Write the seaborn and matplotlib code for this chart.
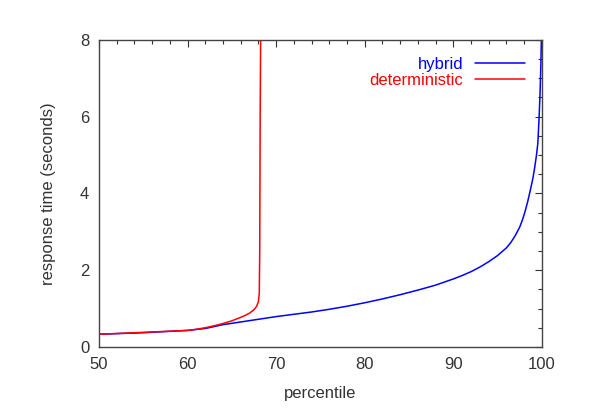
import matplotlib
matplotlib.use("Agg")
import matplotlib.pyplot as plt
from matplotlib.ticker import MultipleLocator
import seaborn as sns
import pandas as pd

# Data
hybrid_x = [50, 55, 60, 62, 63, 64, 66, 68, 70, 72, 74, 76, 78, 80, 82, 84, 86, 88, 90,
            91, 92, 93, 94, 95, 96, 96.5, 97, 97.5, 97.8, 98.1, 98.4, 98.7, 99.0, 99.2,
            99.4, 99.55, 99.7, 99.8, 99.9, 99.95]
hybrid_y = [0.33, 0.37, 0.43, 0.48, 0.53, 0.58, 0.65, 0.72, 0.79, 0.85, 0.91, 0.98, 1.06,
            1.15, 1.25, 1.36, 1.48, 1.61, 1.77, 1.86, 1.96, 2.08, 2.22, 2.38, 2.58, 2.72,
            2.9, 3.12, 3.3, 3.52, 3.78, 4.08, 4.4, 4.68, 5.0, 5.3, 6.0, 6.6, 7.4, 8.0]
det_x = [50, 52, 54, 56, 58, 60, 61, 62, 63, 64, 65, 66, 66.5, 67, 67.5, 67.8, 68.0,
         68.1, 68.15, 68.2, 68.25]
det_y = [0.33, 0.35, 0.37, 0.39, 0.41, 0.43, 0.46, 0.50, 0.55, 0.61, 0.68, 0.77, 0.82,
         0.88, 0.97, 1.06, 1.18, 1.4, 2.5, 6.0, 8.0]
series = ["hybrid", "deterministic"]
colors = ["#0000ff", "#ff0000"]
x_ticks = [50, 60, 70, 80, 90, 100]
y_ticks = [0, 2, 4, 6, 8]

df = pd.concat([
    pd.DataFrame({"percentile": hybrid_x, "response": hybrid_y, "series": series[0]}),
    pd.DataFrame({"percentile": det_x, "response": det_y, "series": series[1]}),
], ignore_index=True)

sns.set_theme(style="white")
plt.rcParams["font.family"] = ["Liberation Sans", "DejaVu Sans"]
txt = "#333333"

fig = plt.figure(figsize=(6, 4.2), dpi=100)
ax = fig.add_axes([0.165, 0.174, 0.738, 0.731])

sns.lineplot(data=df, x="percentile", y="response", hue="series",
             hue_order=series, palette=colors, estimator=None, sort=False,
             linewidth=1.1, ax=ax)

ax.set_xlim(50, 100)
ax.set_ylim(0, 8)
ax.set_xticks(x_ticks)
ax.set_yticks(y_ticks)
ax.xaxis.set_minor_locator(MultipleLocator(2))
ax.yaxis.set_minor_locator(MultipleLocator(0.5))
ax.tick_params(which="both", direction="in", top=True, right=True,
               color="#333333", width=0.8, labelsize=12, labelcolor=txt)
ax.tick_params(which="major", length=5, pad=7)
ax.tick_params(which="minor", length=3)
for s in ax.spines.values():
    s.set_color("#444444")
    s.set_linewidth(1.0)

ax.set_xlabel("percentile", fontsize=12, color=txt, labelpad=10)
ax.set_ylabel("response time (seconds)", fontsize=12, color=txt, labelpad=17)

leg = ax.legend(loc="upper right", frameon=False, markerfirst=False,
                labelcolor="linecolor", fontsize=12, handlelength=3.0,
                handletextpad=0.7, borderaxespad=0.6, labelspacing=0.1)

fig.savefig("out.png", dpi=100)
